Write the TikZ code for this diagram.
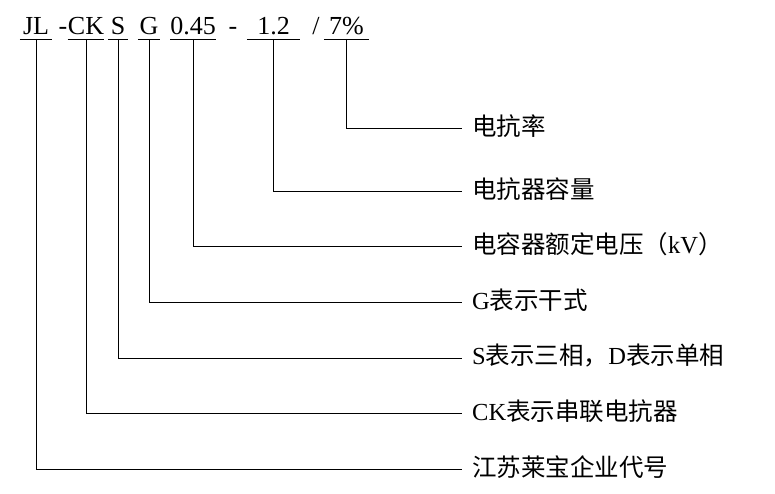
\documentclass[tikz,border=0pt]{standalone}
\usepackage{fontspec}
\setmainfont{Liberation Serif}
\newfontfamily\cjk{Noto Sans CJK SC}
\begin{document}
\begin{tikzpicture}[x=1pt,y=-1pt,
  code/.style={inner xsep=0pt,inner ysep=4pt,text depth=0pt,anchor=south,font=\fontsize{26}{28}\selectfont},
  sep/.style={inner sep=0pt,anchor=base,font=\fontsize{26}{28}\selectfont},
  lab/.style={inner sep=0pt,anchor=west,font=\fontsize{24.5}{26}\selectfont},
  ln/.style={line width=0.9pt,black}]
\useasboundingbox (0,0) rectangle (775,494);
% code segments
\node[code,minimum width=32] (jl) at (36,39) {JL};
\node[sep] (d1) at (63,35) {-};
\node[code,minimum width=25] (ck) at (86,39) {CK};
\node[code,minimum width=20] (s) at (118,39) {S};
\node[code,minimum width=22] (g) at (149,39) {G};
\node[code,minimum width=44] (v) at (193,39) {0.45};
\node[sep] (d2) at (233,35) {-};
\node[code,minimum width=53] (q) at (273.5,39) {1.2};
\node[sep] (sl) at (316,35) {/};
\node[code,minimum width=45] (p) at (346.5,39) {7\%};
\foreach \n in {jl,ck,s,g,v,q,p}{\draw[ln] (\n.south west) -- (\n.south east);}
% labels
\node[lab] (l1) at (472,126) {{\cjk 电抗率}};
\node[lab] (l2) at (472,189) {{\cjk 电抗器容量}};
\node[lab] (l3) at (472,244) {{\cjk 电容器额定电压（}kV{\cjk ）}};
\node[lab] (l4) at (472,300) {G{\cjk 表示干式}};
\node[lab] (l5) at (472,356) {S{\cjk 表示三相，}D{\cjk 表示单相}};
\node[lab] (l6) at (472,411) {CK{\cjk 表示串联电抗器}};
\node[lab] (l7) at (472,467) {{\cjk 江苏莱宝企业代号}};
% connectors
\draw[ln] (p.south) |- ([xshift=-10pt,yshift=-2pt]l1.west);
\draw[ln] (q.south) |- ([xshift=-10pt,yshift=-2pt]l2.west);
\draw[ln] (v.south) |- ([xshift=-10pt,yshift=-2pt]l3.west);
\draw[ln] (g.south) |- ([xshift=-10pt,yshift=-2pt]l4.west);
\draw[ln] (s.south) |- ([xshift=-10pt,yshift=-2pt]l5.west);
\draw[ln] (ck.south) |- ([xshift=-10pt,yshift=-2pt]l6.west);
\draw[ln] (jl.south) |- ([xshift=-10pt,yshift=-2pt]l7.west);
\end{tikzpicture}
\end{document}
